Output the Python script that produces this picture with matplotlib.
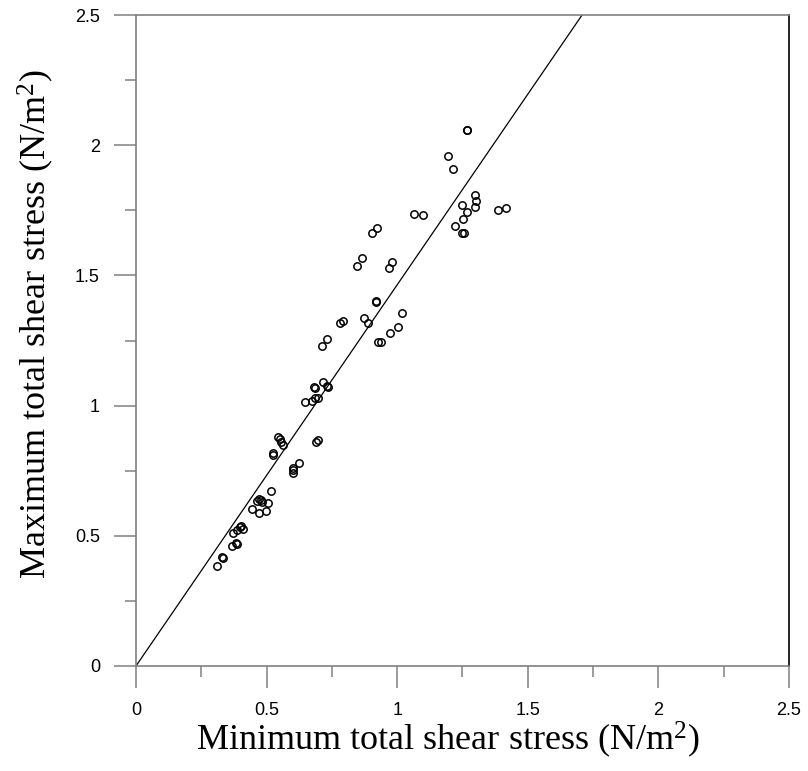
import numpy as np
import matplotlib
matplotlib.use("Agg")
import matplotlib.pyplot as plt
from matplotlib.ticker import MultipleLocator

# minimum vs maximum total shear stress (N/m^2)
min_stress = [0.309, 0.328, 0.332, 0.368, 0.383, 0.385, 0.373, 0.388, 0.398, 0.403,
              0.411, 0.445, 0.470, 0.462, 0.472, 0.477, 0.482, 0.497, 0.505, 0.518,
              0.526, 0.526, 0.542, 0.551, 0.556, 0.564, 0.600, 0.600, 0.602, 0.625,
              0.688, 0.698, 0.648, 0.673, 0.685, 0.698, 0.681, 0.685, 0.717, 0.730,
              0.736, 0.711, 0.732, 0.781, 0.791, 0.845, 0.866, 0.902, 0.921, 0.873,
              0.887, 0.918, 0.920, 0.970, 0.980, 0.927, 0.938, 0.972, 1.004, 1.017,
              1.064, 1.099, 1.221, 1.250, 1.257, 1.266, 1.268, 1.194, 1.212, 1.297,
              1.303, 1.297, 1.247, 1.266, 1.253, 1.387, 1.417]
max_stress = [0.384, 0.420, 0.413, 0.461, 0.473, 0.468, 0.512, 0.522, 0.535, 0.538,
              0.525, 0.603, 0.586, 0.634, 0.640, 0.637, 0.630, 0.597, 0.627, 0.671,
              0.817, 0.809, 0.878, 0.871, 0.860, 0.849, 0.740, 0.753, 0.759, 0.778,
              0.860, 0.868, 1.015, 1.018, 1.028, 1.028, 1.073, 1.066, 1.089, 1.076,
              1.073, 1.230, 1.254, 1.316, 1.326, 1.536, 1.566, 1.662, 1.681, 1.335,
              1.316, 1.399, 1.401, 1.530, 1.551, 1.246, 1.246, 1.277, 1.303, 1.354,
              1.735, 1.733, 1.690, 1.662, 1.662, 2.058, 2.058, 1.958, 1.907, 1.807,
              1.784, 1.761, 1.770, 1.745, 1.718, 1.753, 1.758]

slope = 1.464  # reference line y = slope * x

plt.rcParams["mathtext.fontset"] = "custom"
plt.rcParams["mathtext.rm"] = "Liberation Serif"
plt.rcParams["mathtext.it"] = "Liberation Serif"

fig = plt.figure(figsize=(8.08, 7.71), dpi=100)
ax = fig.add_axes([0.1683, 0.1362, 0.8082, 0.8443])

ax.plot([0, 2.5 / slope], [0, 2.5], color="black", lw=0.9)
ax.plot(min_stress, max_stress, "o", mfc="none", mec="black", ms=5.3, mew=1.1,
        clip_on=False)

ax.set_xlim(0, 2.5)
ax.set_ylim(0, 2.5)
ax.xaxis.set_major_locator(MultipleLocator(0.5))
ax.yaxis.set_major_locator(MultipleLocator(0.5))
ax.xaxis.set_minor_locator(MultipleLocator(0.25))
ax.yaxis.set_minor_locator(MultipleLocator(0.25))
ax.xaxis.set_major_formatter(plt.FuncFormatter(lambda v, p: f"{v:g}"))
ax.yaxis.set_major_formatter(plt.FuncFormatter(lambda v, p: f"{v:g}"))

grey = "#808080"
for s in ["left", "bottom", "top"]:
    ax.spines[s].set_color(grey)
ax.spines["right"].set_color("black")
for s in ax.spines.values():
    s.set_linewidth(1.2)

ax.tick_params(which="major", direction="out", length=16, width=1.1, color=grey,
               labelsize=13, pad=10)
ax.tick_params(which="minor", direction="out", length=8, width=1.1, color=grey)
for lab in ax.get_xticklabels() + ax.get_yticklabels():
    lab.set_fontfamily("Liberation Sans")

ax.set_xlabel("Minimum total shear stress (N/m$^2$)", fontsize=26,
              fontfamily="Liberation Serif")
ax.set_ylabel("Maximum total shear stress (N/m$^2$)", fontsize=26,
              fontfamily="Liberation Serif")
ax.xaxis.set_label_coords(0.478, -0.082)
ax.yaxis.set_label_coords(-0.122, 0.525)

fig.savefig("out.png", dpi=100)
